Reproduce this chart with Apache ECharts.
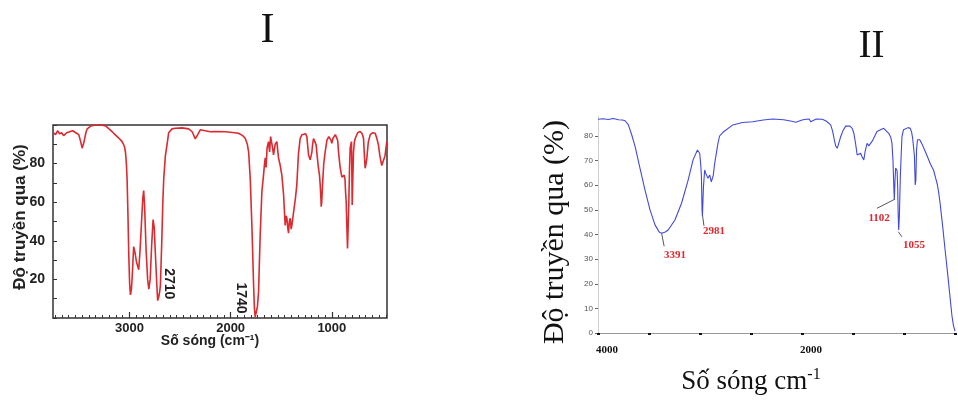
<!DOCTYPE html>
<html><head><meta charset="utf-8">
<script src="https://cdn.jsdelivr.net/npm/echarts@6/dist/echarts.min.js"></script>
<style>html,body{margin:0;padding:0;background:#fff;}#c{width:958px;height:403px;}</style>
</head><body><div id="c"></div>
<script>
// ---- Spectrum I (red) ----
const leftWN = [3750,3730,3710,3690,3670,3650,3620,3590,3560,3530,3500,3480,3467,3450,3430,3417,3380,3335,3280,3236,3190,3155,3110,3072,3050,3039,3030,3023,3015,3007,2998,2990,2980,2973,2958,2945,2930,2918,2908,2895,2880,2868,2859,2850,2835,2820,2808,2795,2780,2766,2755,2745,2730,2721,2710,2700,2694,2680,2670,2661,2645,2628,2612,2595,2579,2546,2480,2415,2380,2349,2325,2300,2250,2200,2152,2050,1960,1922,1880,1855,1835,1822,1806,1789,1773,1765,1757,1745,1735,1724,1708,1691,1675,1665,1658,1650,1640,1626,1615,1605,1592,1585,1576,1560,1543,1535,1527,1510,1494,1477,1461,1452,1444,1436,1428,1420,1411,1402,1395,1385,1372,1360,1346,1330,1313,1295,1280,1260,1247,1238,1230,1222,1214,1205,1197,1190,1181,1170,1155,1145,1132,1122,1115,1108,1105,1100,1092,1080,1066,1049,1030,1017,1008,1000,990,984,965,951,942,934,918,901,890,878,870,865,858,852,845,840,832,825,819,812,806,802,799,794,786,778,769,745,720,700,687,680,671,662,654,640,621,595,572,555,540,525,507,490,475,457];
const leftT = [96,95,97,95.5,96,94.5,96,96.5,97,96,95,91,88,91,96,98,99.5,100,100,99.5,97.5,95.7,93.5,91.4,89,86,80,72,55,34,18,12,15,21,37,34,29,30,25,35,50,62,66,58,35,20,15,20,38,51,47,35,18,9,11,14,17,40,60,72,84,90,96,97,98,98.3,98.5,98,96.5,92.8,95,97.5,97,96.5,96.6,96.5,96,95.7,94.5,93,90,86,72,46.5,17,5,0.5,0.5,6,13.6,43,65.5,74,80,83,78,88,91.4,86,94,94,88,84.5,90,91.4,87,83,79,74,64,48,53,51.7,47,44,50,51.7,46,48,52,53,62,69,85,93,95,95.7,95.5,94,89,84.5,85,82,84,86,90,93,92,89.7,84,77.6,74,69,62,57.7,60,69,80,86,92,94,94,92,90.5,93,94,95,95,92,86,78,73,73,74,72,66,60,48,36,45,60,78,88,90,91.4,75,58.5,70,86,91,93,96,96.6,95.5,93,86,77.6,80,83,91,95,96,95.7,93,89.7,84,79,79,84,91.4];
const leftXLabels = [1000, 2000, 3000];
const leftYLabels = [20, 40, 60, 80];
const leftPeaks = [{text: '2710', wn: 2710, t: 10}, {text: '1740', wn: 1740, t: 0}];

// ---- Spectrum II (blue) ----
const rightWN = [4000,3950,3900,3850,3800,3760,3734,3702,3669,3636,3588,3539,3490,3441,3400,3376,3340,3312,3246,3181,3117,3068,3025,3003,2992,2986,2980,2976,2970,2966,2954,2945,2937,2922,2905,2889,2870,2856,2824,2808,2775,2678,2583,2483,2380,2288,2180,2100,2060,2000,1960,1930,1915,1900,1860,1800,1760,1719,1700,1686,1670,1654,1640,1621,1600,1572,1557,1530,1508,1491,1475,1459,1445,1426,1410,1394,1380,1362,1345,1329,1310,1297,1265,1248,1199,1150,1130,1118,1108,1102,1095,1088,1082,1075,1068,1062,1057,1052,1045,1036,1028,1020,1005,987,960,939,925,915,906,898,890,884,877,868,858,846,826,800,777,740,711,690,672,660,646,620,597,572,549,530,515,500];
const rightT = [86.8,87,86.7,87.1,86.6,86.5,86.2,84.5,80.4,75.7,66.9,58,50,43.9,41,40.5,41,41.8,45.9,52.7,62,70.3,74.3,73,68,63.5,50,47.5,55,59.4,66.2,65,64.2,62.8,64.2,61.4,64,68.9,77,80,81.5,84.5,85.5,85.8,86.5,86.9,86.6,86,85.6,86.5,86.8,86.9,85.8,86.5,86.9,86.8,86,84.5,82,79,76,75,77,79.7,82,84,84.5,84,83.1,81,77,72.3,72.8,73,71.5,70.3,74,77,76,76.3,78,78.4,81.8,82.4,83.1,81.1,79.5,77,70,62,54,62,67,67.5,66,59.4,48,41.8,48,63.5,72,79.7,82.5,83.1,83.4,83.1,81.5,79,78.4,72,60.1,62,74.3,78.5,79,78.5,77,74.5,72.3,68.5,66.2,63,60.1,57,52.7,43,33.7,24,14.7,7,3,0.8];
const rightXLabels = [4000, 2000];
const rightYTicks = [0, 10, 20, 30, 40, 50, 60, 70, 80];
const rightPeaks = [
  {text: '3391', wn: 3391, t: 40.5},
  {text: '2981', wn: 2981, t: 48},
  {text: '1102', wn: 1102, t: 54},
  {text: '1055', wn: 1055, t: 41.8}
];

const minorTicks = [];
for (let v = 3000 + 11 * 1000 / 15; v >= 455; v -= 1000 / 15) minorTicks.push(Math.round(v * 10) / 10);

const chart = echarts.init(document.getElementById('c'), null, {renderer: 'canvas'});
const sans = 'Liberation Sans, Arial, sans-serif';
const serif = 'Liberation Serif, Times New Roman, serif';

chart.setOption({
  animation: false,
  grid: [
    {left: 53, top: 125, width: 334, height: 193, show: true, borderColor: '#333', borderWidth: 1.5, backgroundColor: 'transparent'},
    {left: 598, top: 116.3, width: 359, height: 216.7}
  ],
  xAxis: [
    {gridIndex: 0, type: 'value', min: 455, max: 3755, inverse: true,
     axisLine: {show: false},
     axisTick: {show: true, inside: true, length: 6, customValues: leftXLabels, lineStyle: {color: '#333', width: 1.2}},
     axisLabel: {customValues: leftXLabels, formatter: v => String(v), color: '#222', fontFamily: sans, fontWeight: 'bold', fontSize: 13, margin: 4},
     splitLine: {show: false}},
    {gridIndex: 0, type: 'value', min: 455, max: 3755, inverse: true, position: 'bottom',
     axisLine: {show: false},
     axisTick: {show: true, inside: true, length: 3, customValues: minorTicks, lineStyle: {color: '#333', width: 1}},
     axisLabel: {show: false}, splitLine: {show: false}},
    {gridIndex: 1, type: 'value', min: 500, max: 4000, interval: 500, inverse: true, offset: 4,
     axisLine: {show: true, lineStyle: {color: '#999', width: 1}},
     axisTick: {show: true, length: 2, lineStyle: {color: '#111', width: 3}},
     axisLabel: {formatter: v => rightXLabels.indexOf(v) >= 0 ? String(v) : '', color: '#111', fontFamily: serif, fontWeight: 'bold', fontSize: 11, margin: 8, padding: [0, 0, 0, 18]},
     splitLine: {show: false}}
  ],
  yAxis: [
    {gridIndex: 0, type: 'value', min: 0, max: 100, interval: 10,
     axisLine: {show: false},
     axisTick: {show: true, inside: true, length: 4, lineStyle: {color: '#333', width: 1}},
     axisLabel: {formatter: v => leftYLabels.indexOf(v) >= 0 ? String(v) : '', color: '#222', fontFamily: sans, fontWeight: 'bold', fontSize: 14, margin: 8},
     splitLine: {show: false}},
    {gridIndex: 1, type: 'value', min: 0, max: 88,
     axisLine: {show: true, lineStyle: {color: '#d0d0d0', width: 1}},
     axisTick: {show: true, length: 3, customValues: rightYTicks, lineStyle: {color: '#666', width: 1}},
     axisLabel: {customValues: rightYTicks, color: '#555', fontFamily: sans, fontSize: 8, margin: 5},
     splitLine: {show: false}}
  ],
  series: [
    {type: 'line', xAxisIndex: 0, yAxisIndex: 0, showSymbol: false, symbol: 'none',
     data: leftWN.map((w, i) => [w, leftT[i]]),
     lineStyle: {color: '#dc2a30', width: 1.6}, silent: true},
    {type: 'line', xAxisIndex: 2, yAxisIndex: 1, showSymbol: false, symbol: 'none',
     data: rightWN.map((w, i) => [w, rightT[i]]),
     lineStyle: {color: '#4149db', width: 1.1}, silent: true}
  ]
});

const L = (wn, t) => chart.convertToPixel({xAxisIndex: 0, yAxisIndex: 0}, [wn, t]);
const R = (wn, t) => chart.convertToPixel({xAxisIndex: 2, yAxisIndex: 1}, [wn, t]);

const leftOffsets = {'2710': [10, -15], '1740': [-16, -20]};
const rightGeom = {
  '3391': {a: [1.5, 0], b: [4, 13], tx: [15, 22]},
  '2981': {a: [0.5, 0], b: [2, 11], tx: [12, 16]},
  '1102': {a: [1, -0.7], b: [-16.7, 8.3], tx: [-14.5, 18]},
  '1055': {a: [0, 1.7], b: [3.5, 6.7], tx: [15.7, 15]}
};

const g = [];
// Titles
g.push({type: 'text', x: 267.5, y: 31, style: {text: 'I', font: '42px ' + serif, fill: '#111', textAlign: 'center', textVerticalAlign: 'middle'}});
g.push({type: 'text', x: 871.5, y: 47, style: {text: 'II', font: '39px ' + serif, fill: '#111', textAlign: 'center', textVerticalAlign: 'middle'}});
// Left axis names
g.push({type: 'text', x: 210, y: 341, style: {text: 'Số sóng (cm⁻¹)', font: 'bold 14px ' + sans, fill: '#222', textAlign: 'center', textVerticalAlign: 'middle'}});
g.push({type: 'text', x: 20, y: 217, rotation: Math.PI / 2, style: {text: 'Độ truyền qua (%)', font: 'bold 17px ' + sans, fill: '#222', textAlign: 'center', textVerticalAlign: 'middle'}});
// Right axis names
g.push({type: 'text', x: 555, y: 232, rotation: Math.PI / 2, style: {text: 'Độ truyền qua (%)', font: '30px ' + serif, fill: '#111', textAlign: 'center', textVerticalAlign: 'middle'}});
g.push({type: 'text', x: 751, y: 382, style: {
  text: '{m|Số sóng cm}{s|-1}', textAlign: 'center', textVerticalAlign: 'middle',
  rich: {m: {font: '27px ' + serif, fill: '#111'}, s: {font: '16px ' + serif, fill: '#111', verticalAlign: 'top', padding: [0, 0, 14, 0]}}
}});
// Left peak labels
leftPeaks.forEach(p => {
  const pt = L(p.wn, p.t), o = leftOffsets[p.text];
  g.push({type: 'text', x: pt[0] + o[0], y: pt[1] + o[1], rotation: -Math.PI / 2,
    style: {text: p.text, font: 'bold 14px ' + sans, fill: '#222', textAlign: 'center', textVerticalAlign: 'middle'}});
});
// Right peak labels with leader lines
rightPeaks.forEach(p => {
  const pt = R(p.wn, p.t), o = rightGeom[p.text];
  g.push({type: 'line', shape: {x1: pt[0] + o.a[0], y1: pt[1] + o.a[1], x2: pt[0] + o.b[0], y2: pt[1] + o.b[1]}, style: {stroke: '#555', lineWidth: 1}});
  g.push({type: 'text', x: pt[0] + o.tx[0], y: pt[1] + o.tx[1],
    style: {text: p.text, font: 'bold 11px ' + serif, fill: '#e3252d', textAlign: 'center', textVerticalAlign: 'middle'}});
});
chart.setOption({graphic: g});
</script></body></html>
